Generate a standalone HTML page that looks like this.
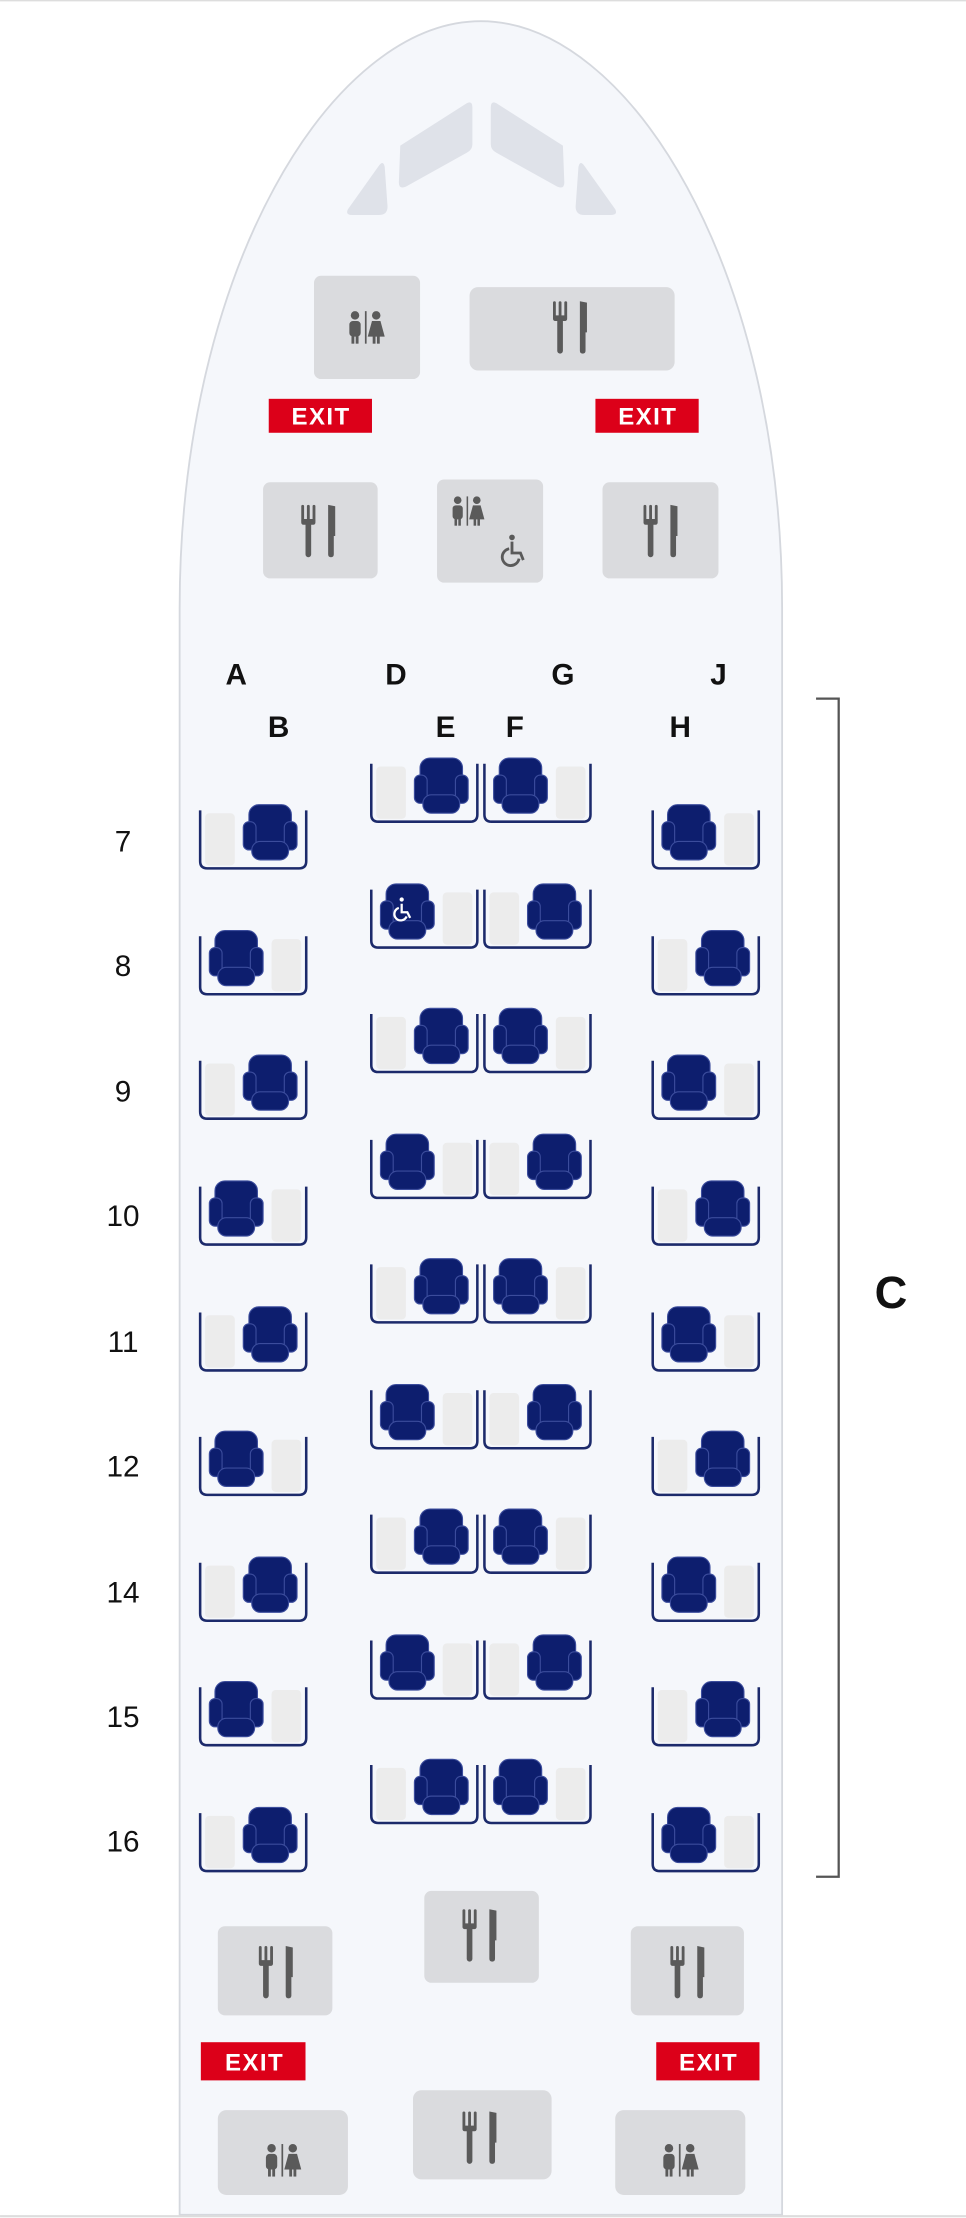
<!DOCTYPE html>
<html><head><meta charset="utf-8"><style>
html,body{margin:0;padding:0;background:#fff}
svg{display:block}
text{font-family:"Liberation Sans",sans-serif}
</style></head><body>
<svg width="966" height="2218" viewBox="0 0 683 1568.3" xmlns="http://www.w3.org/2000/svg">
<defs>
<g id="seat">
 <rect x="4" y="0" width="30" height="32" rx="7" fill="#0d1e6e" stroke="#3b4c9c" stroke-width="0.8"/>
 <rect x="0" y="12" width="9" height="20" rx="4" fill="#0d1e6e" stroke="#3b4c9c" stroke-width="0.8"/>
 <rect x="29" y="12" width="9" height="20" rx="4" fill="#0d1e6e" stroke="#3b4c9c" stroke-width="0.8"/>
 <rect x="6" y="26" width="26" height="13" rx="6" fill="#0d1e6e" stroke="#3b4c9c" stroke-width="0.8"/>
</g>
<g id="boxR">
 <rect x="4" y="2" width="21" height="37" rx="3" fill="#ececec"/>
 <path d="M0.5,0 V36 Q0.5,41 5.5,41 H70.5 Q75.5,41 75.5,36 V0" fill="none" stroke="#1c2a6b" stroke-width="1.8"/>
 <use href="#seat" x="31" y="-4"/>
</g>
<g id="boxL">
 <rect x="51" y="2" width="21" height="37" rx="3" fill="#ececec"/>
 <path d="M0.5,0 V36 Q0.5,41 5.5,41 H70.5 Q75.5,41 75.5,36 V0" fill="none" stroke="#1c2a6b" stroke-width="1.8"/>
 <use href="#seat" x="7" y="-4"/>
</g>
<g id="cut" fill="#5a5a5a">
 <rect x="0" y="0" width="2" height="12" rx="1"/><rect x="4" y="0" width="2" height="12" rx="1"/><rect x="8" y="0" width="2" height="12" rx="1"/>
 <rect x="0" y="10" width="10" height="4" rx="1.5"/>
 <rect x="3" y="12" width="4" height="25" rx="2"/>
 <path d="M19,0 L24,1 V22 L23,22 V35 Q23,37 21,37 Q19,37 19,35 Z"/>
</g>
<g id="wc" fill="#5a5a5a">
 <circle cx="4" cy="3" r="3"/><rect x="0" y="7" width="8" height="11" rx="2.5"/><rect x="1.5" y="16" width="2" height="7"/><rect x="4.5" y="16" width="2" height="7"/>
 <rect x="11" y="0" width="1.2" height="23"/>
 <circle cx="19" cy="3" r="3"/><path d="M16,7 H22 L25,18 H13 Z"/><rect x="16.5" y="17" width="2" height="6"/><rect x="19.5" y="17" width="2" height="6"/>
</g>
<g id="wheel" fill="none" stroke="#5a5a5a" stroke-width="2">
 <circle cx="5" cy="1" r="2" fill="#5a5a5a" stroke="none"/>
 <path d="M5,4 V12 H11 L13,17"/><path d="M3,9 A6,6 0 1 0 10,16"/>
</g>
</defs>
<rect x="0" y="0" width="683" height="1568.3" fill="#fff"/>
<line x1="0" y1="0.5" x2="683" y2="0.5" stroke="#ddd"/>
<path d="M127,430 C127,190 235,15 340,15 C445,15 553,190 553,430 L553,1566 L127,1566 Z" fill="#f5f7fb" stroke="#d5d8de" stroke-width="1.3"/>
<line x1="0" y1="1567" x2="683" y2="1567" stroke="#ddd" stroke-width="1.5"/>
<!-- windows -->
<g fill="#dfe2e9">
 <path d="M246,148 L268,117 Q271,113 272,118 L274,146 Q274,152 268,152 L249,152 Q244,152 246,148 Z"/>
 <path d="M283,103 L330,73 Q334,71 334,76 L334,102 Q334,106 330,108 L287,132 Q282,134 282,129 Z"/>
 <g transform="translate(681,0) scale(-1,1)">
 <path d="M246,148 L268,117 Q271,113 272,118 L274,146 Q274,152 268,152 L249,152 Q244,152 246,148 Z"/>
 <path d="M283,103 L330,73 Q334,71 334,76 L334,102 Q334,106 330,108 L287,132 Q282,134 282,129 Z"/>
 </g>
</g>
<!-- front facilities -->
<g fill="#dadbde">
 <rect x="222" y="195" width="75" height="73" rx="5"/>
 <rect x="332" y="203" width="145" height="59" rx="6"/>
 <rect x="186" y="341" width="81" height="68" rx="5"/>
 <rect x="309" y="339" width="75" height="73" rx="5"/>
 <rect x="426" y="341" width="82" height="68" rx="5"/>
 <rect x="300" y="1337" width="81" height="65" rx="5"/>
 <rect x="154" y="1362" width="81" height="63" rx="5"/>
 <rect x="446" y="1362" width="80" height="63" rx="5"/>
 <rect x="154" y="1492" width="92" height="60" rx="6"/>
 <rect x="292" y="1478" width="98" height="63" rx="6"/>
 <rect x="435" y="1492" width="92" height="60" rx="6"/>
</g>
<use href="#wc" x="247" y="220"/>
<use href="#cut" x="391" y="213"/>
<use href="#cut" x="213" y="357"/>
<use href="#cut" x="455" y="357"/>
<use href="#wc" transform="translate(320,351) scale(0.9)"/>
<use href="#wheel" x="357" y="379"/>
<use href="#cut" x="327" y="1350"/>
<use href="#cut" x="183" y="1376"/>
<use href="#cut" x="474" y="1376"/>
<use href="#wc" x="188" y="1516"/>
<use href="#cut" x="327" y="1493"/>
<use href="#wc" x="469" y="1516"/>
<!-- exits -->
<g fill="#dc0019">
 <rect x="190" y="282" width="73" height="24"/><rect x="421" y="282" width="73" height="24"/>
 <rect x="142" y="1444" width="74" height="27"/><rect x="464" y="1444" width="73" height="27"/>
</g>
<g fill="#fff" font-weight="bold" font-size="17" text-anchor="middle" letter-spacing="1">
 <text x="227" y="300">EXIT</text><text x="458" y="300">EXIT</text>
 <text x="180" y="1464">EXIT</text><text x="501" y="1464">EXIT</text>
</g>
<!-- column letters -->
<g font-weight="bold" font-size="21" fill="#111" text-anchor="middle">
 <text x="167" y="484">A</text><text x="280" y="484">D</text><text x="398" y="484">G</text><text x="508" y="484">J</text>
 <text x="197" y="521">B</text><text x="315" y="521">E</text><text x="364" y="521">F</text><text x="481" y="521">H</text>
</g>
<!-- row labels -->
<g font-size="21" fill="#111" text-anchor="middle">
 <text x="87" y="602">7</text><text x="87" y="690">8</text><text x="87" y="779">9</text>
 <text x="87" y="867">10</text><text x="87" y="956">11</text><text x="87" y="1044">12</text>
 <text x="87" y="1133">14</text><text x="87" y="1221">15</text><text x="87" y="1309">16</text>
</g>
<!-- bracket -->
<path d="M577,494 H593 V1327 H577" fill="none" stroke="#555" stroke-width="1.6"/>
<text x="630" y="925" font-size="32" font-weight="bold" fill="#111" text-anchor="middle">C</text>
<!-- seats: left A/B -->
<use href="#boxR" x="141" y="573"/><use href="#boxL" x="141" y="662"/>
<use href="#boxR" x="141" y="750"/><use href="#boxL" x="141" y="839"/>
<use href="#boxR" x="141" y="928"/><use href="#boxL" x="141" y="1016"/>
<use href="#boxR" x="141" y="1105"/><use href="#boxL" x="141" y="1193"/>
<use href="#boxR" x="141" y="1282"/>
<!-- right H/J -->
<use href="#boxL" x="461" y="573"/><use href="#boxR" x="461" y="662"/>
<use href="#boxL" x="461" y="750"/><use href="#boxR" x="461" y="839"/>
<use href="#boxL" x="461" y="928"/><use href="#boxR" x="461" y="1016"/>
<use href="#boxL" x="461" y="1105"/><use href="#boxR" x="461" y="1193"/>
<use href="#boxL" x="461" y="1282"/>
<!-- center D/E -->
<use href="#boxR" x="262" y="540"/><use href="#boxL" x="262" y="629"/>
<use href="#boxR" x="262" y="717"/><use href="#boxL" x="262" y="806"/>
<use href="#boxR" x="262" y="894"/><use href="#boxL" x="262" y="983"/>
<use href="#boxR" x="262" y="1071"/><use href="#boxL" x="262" y="1160"/>
<use href="#boxR" x="262" y="1248"/>
<!-- center F/G -->
<use href="#boxL" x="342" y="540"/><use href="#boxR" x="342" y="629"/>
<use href="#boxL" x="342" y="717"/><use href="#boxR" x="342" y="806"/>
<use href="#boxL" x="342" y="894"/><use href="#boxR" x="342" y="983"/>
<use href="#boxL" x="342" y="1071"/><use href="#boxR" x="342" y="1160"/>
<use href="#boxL" x="342" y="1248"/>
<!-- wheelchair on 8D -->
<g fill="none" stroke="#fff" stroke-width="1.6">
 <circle cx="284" cy="636" r="1.5" fill="#fff" stroke="none"/>
 <path d="M284,639 V645 H288 L290,649"/><path d="M282,642 A4.5,4.5 0 1 0 287.5,648"/>
</g>
</svg>
</body></html>
